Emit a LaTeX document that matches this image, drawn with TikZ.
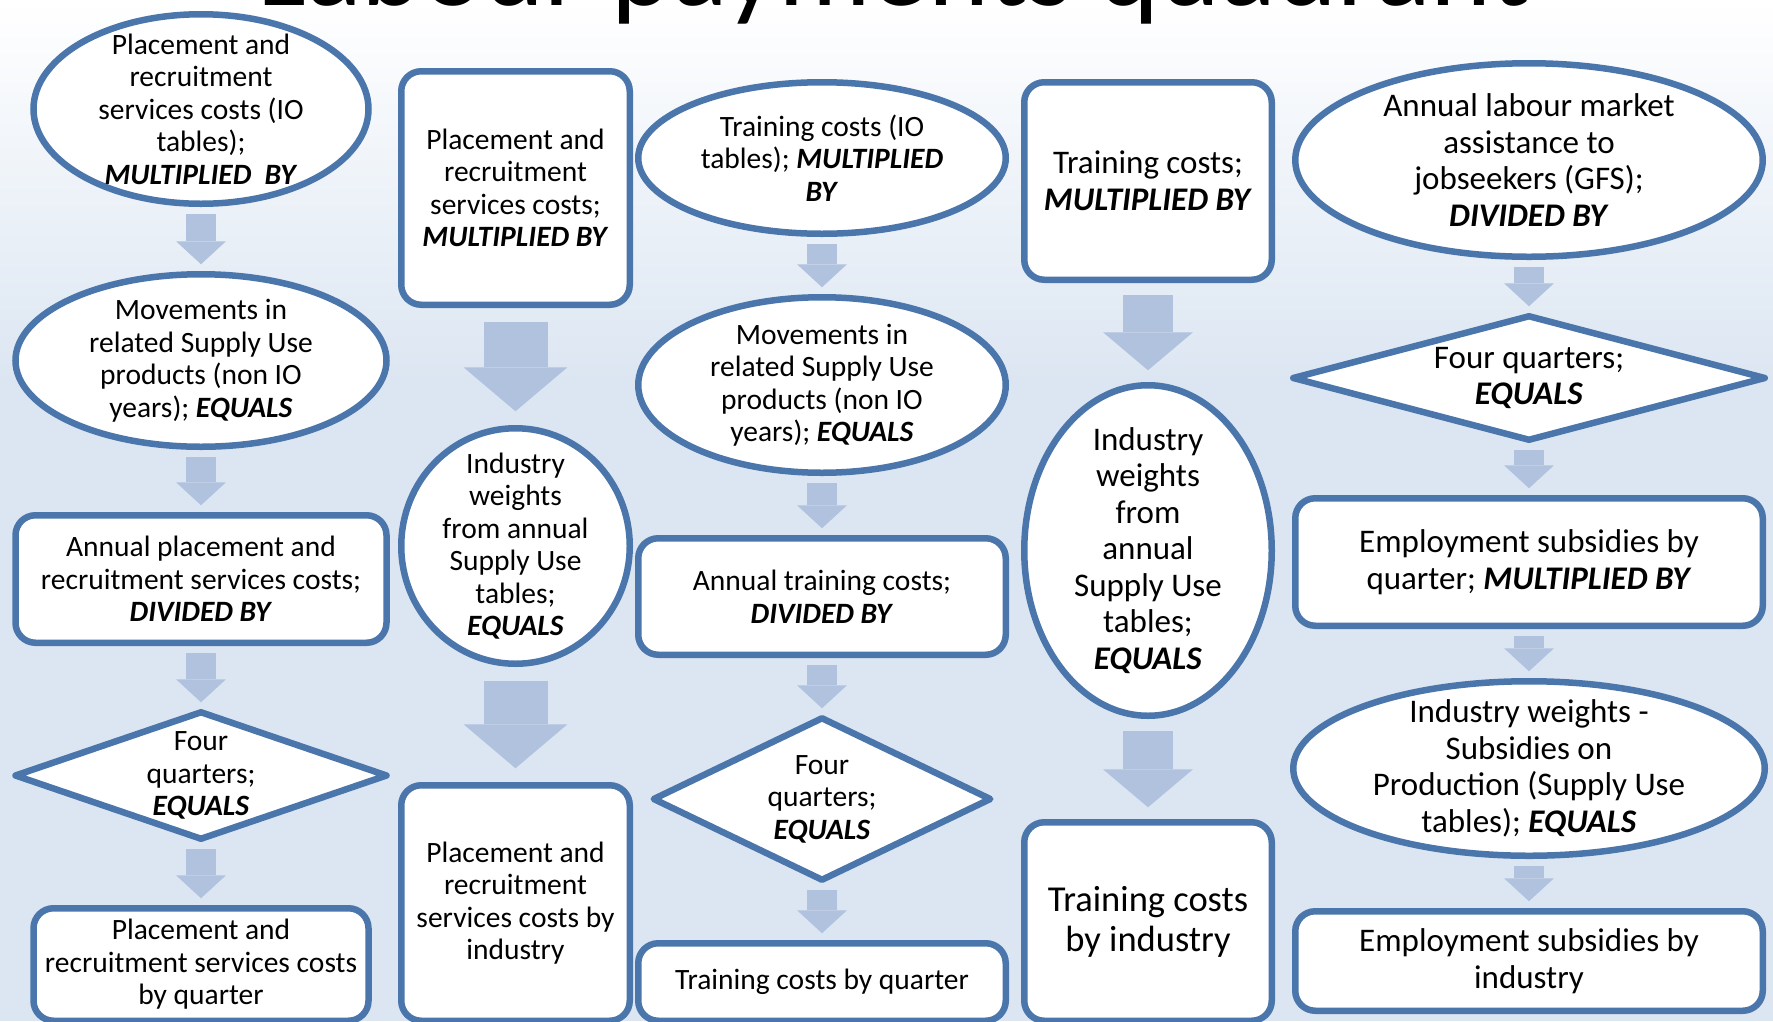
\documentclass[tikz,border=0pt]{standalone}
\usepackage{fontspec}
\setmainfont{Carlito}
\usetikzlibrary{shapes.geometric,arrows.meta}
\definecolor{edge}{HTML}{4A76AC}
\definecolor{arr}{HTML}{B0C2DE}
\definecolor{bgb}{HTML}{DCE6F2}
\newcommand{\bi}[1]{\textbf{\textit{#1}}}
\begin{document}
\begin{tikzpicture}[x=1pt,y=-1pt,
  shp/.style={draw=edge, line width=6.5pt, fill=white, inner sep=0pt, outer sep=0pt},
  box/.style={shp, rectangle, rounded corners=20pt},
  oval/.style={shp, ellipse},
  dia/.style={shp, diamond, line join=round},
  txt/.style={align=center, inner sep=0pt, font=\fontsize{29.5}{32.5}\selectfont},
  txtb/.style={align=center, inner sep=0pt, font=\fontsize{33}{36.5}\selectfont},
  txtc/.style={align=center, inner sep=0pt, font=\fontsize{36.5}{40}\selectfont},
  sarrow/.style={draw=arr, line width=30pt, shorten <=10pt, shorten >=10pt, -{Triangle[width=50pt,length=23pt,line width=0pt]}},
  barrow/.style={draw=arr, line width=64pt, shorten <=17pt, shorten >=17pt, -{Triangle[width=104pt,length=44pt,line width=0pt]}},
  marrow/.style={draw=arr, line width=50pt, shorten <=15pt, shorten >=15pt, -{Triangle[width=90pt,length=38pt,line width=0pt]}}
]
\useasboundingbox (0,0) rectangle (1773,1021);
\clip (0,0) rectangle (1773,1021);
\shade[top color=white, bottom color=bgb] (0,0) rectangle (1773,380);
\fill[bgb] (0,379) rectangle (1773,1021);

\node[font=\fontsize{116}{116}\selectfont, anchor=base, inner sep=0pt] (title) at (893.5,5) {Labour payments quadrant};

% column 1
\node[oval, minimum width=335pt, minimum height=189.5pt] (e11) at (201,109) {};
\node[oval, minimum width=371pt, minimum height=172.5pt] (e12) at (201,360.5) {};
\node[box, minimum width=371pt, minimum height=127.5pt] (r13) at (201,579) {};
\node[dia, minimum width=371pt, minimum height=126.5pt] (d14) at (201,775.5) {};
\node[box, minimum width=335pt, minimum height=112.5pt] (r15) at (201,964.5) {};
\node[txt] (t11) at (e11) {Placement and\\recruitment\\services costs (IO\\tables);\\\bi{MULTIPLIED~ BY}};
\node[txt] (t12) at (e12) {Movements in\\related Supply Use\\products (non IO\\years); \bi{EQUALS}};
\node[txt] (t13) at (r13) {Annual placement and\\recruitment services costs;\\\bi{DIVIDED BY}};
\node[txt] (t14) at (d14) {Four\\quarters;\\\bi{EQUALS}};
\node[txt] (t15) at (r15) {Placement and\\recruitment services costs\\by quarter};
\draw[sarrow] (e11.south) -- (e12.north);
\draw[sarrow] (e12.south) -- (r13.north);
\draw[sarrow] (r13.south) -- (d14.north);
\draw[sarrow] (d14.south) -- (r15.north);

% column 2
\node[box, minimum width=228.5pt, minimum height=233.5pt] (r21) at (515.5,188) {};
\node[oval, minimum width=228.5pt, minimum height=235.5pt] (c22) at (515.5,546) {};
\node[box, minimum width=228.5pt, minimum height=235.5pt] (r23) at (515.5,903) {};
\node[txt] (t21) at (r21) {Placement and\\recruitment\\services costs;\\\bi{MULTIPLIED BY}};
\node[txt] (t22) at (c22) {Industry\\weights\\from annual\\Supply Use\\tables;\\\bi{EQUALS}};
\node[txt] (t23) at (r23) {Placement and\\recruitment\\services costs by\\industry};
\draw[barrow] (r21.south) -- (c22.north);
\draw[barrow] (c22.south) -- (r23.north);

% column 3
\node[oval, minimum width=367.5pt, minimum height=151.5pt] (e31) at (822,158) {};
\node[oval, minimum width=367.5pt, minimum height=175.5pt] (e32) at (822,385) {};
\node[box, minimum width=367.5pt, minimum height=116.5pt] (r33) at (822,596.5) {};
\node[dia, minimum width=336.5pt, minimum height=161.5pt] (d34) at (822,799) {};
\node[box, minimum width=367.5pt, minimum height=77.5pt] (r35) at (822,982) {};
\node[txt] (t31) at (e31) {Training costs (IO\\tables); \bi{MULTIPLIED}\\\bi{BY}};
\node[txt] (t32) at (e32) {Movements in\\related Supply Use\\products (non IO\\years); \bi{EQUALS}};
\node[txt] (t33) at (r33) {Annual training costs;\\\bi{DIVIDED BY}};
\node[txt] (t34) at (d34) {Four\\quarters;\\\bi{EQUALS}};
\node[txt] (t35) at (r35) {Training costs by quarter};
\draw[sarrow] (e31.south) -- (e32.north);
\draw[sarrow] (e32.south) -- (r33.north);
\draw[sarrow] (r33.south) -- (d34.north);
\draw[sarrow] (d34.south) -- (r35.north);

% column 4
\node[box, minimum width=247.5pt, minimum height=197.5pt] (r41) at (1148,181) {};
\node[oval, minimum width=247.5pt, minimum height=330.5pt] (e42) at (1148,550.5) {};
\node[box, minimum width=247.5pt, minimum height=198.5pt] (r43) at (1148,921.5) {};
\node[txtb] (t41) at (r41) {Training costs;\\\bi{MULTIPLIED BY}};
\node[txtb] (t42) at (e42) {Industry\\weights\\from\\annual\\Supply Use\\tables;\\\bi{EQUALS}};
\node[txtc] (t43) at (r43) {Training costs\\by industry};
\draw[marrow] (r41.south) -- (e42.north);
\draw[marrow] (e42.south) -- (r43.north);

% column 5
\node[oval, minimum width=467.5pt, minimum height=193.5pt] (e51) at (1529,160) {};
\node[dia, minimum width=471.5pt, minimum height=123.5pt] (d52) at (1529,378) {};
\node[box, minimum width=467.5pt, minimum height=127.5pt] (r53) at (1529,562) {};
\node[oval, minimum width=471.5pt, minimum height=174.5pt] (e54) at (1529,768.5) {};
\node[box, minimum width=467.5pt, minimum height=99.5pt] (r55) at (1529,961) {};
\node[txtb] (t51) at (e51) {Annual labour market\\assistance to\\jobseekers (GFS);\\\bi{DIVIDED BY}};
\node[txtb] (t52) at (d52) {Four quarters;\\\bi{EQUALS}};
\node[txtb] (t53) at (r53) {Employment subsidies by\\quarter; \bi{MULTIPLIED BY}};
\node[txtb] (t54) at (e54) {Industry weights -\\Subsidies on\\Production (Supply Use\\tables); \bi{EQUALS}};
\node[txtb] (t55) at (r55) {Employment subsidies by\\industry};
\draw[sarrow] (e51.south) -- (d52.north);
\draw[sarrow] (d52.south) -- (r53.north);
\draw[sarrow] (r53.south) -- (e54.north);
\draw[sarrow] (e54.south) -- (r55.north);
\end{tikzpicture}
\end{document}
